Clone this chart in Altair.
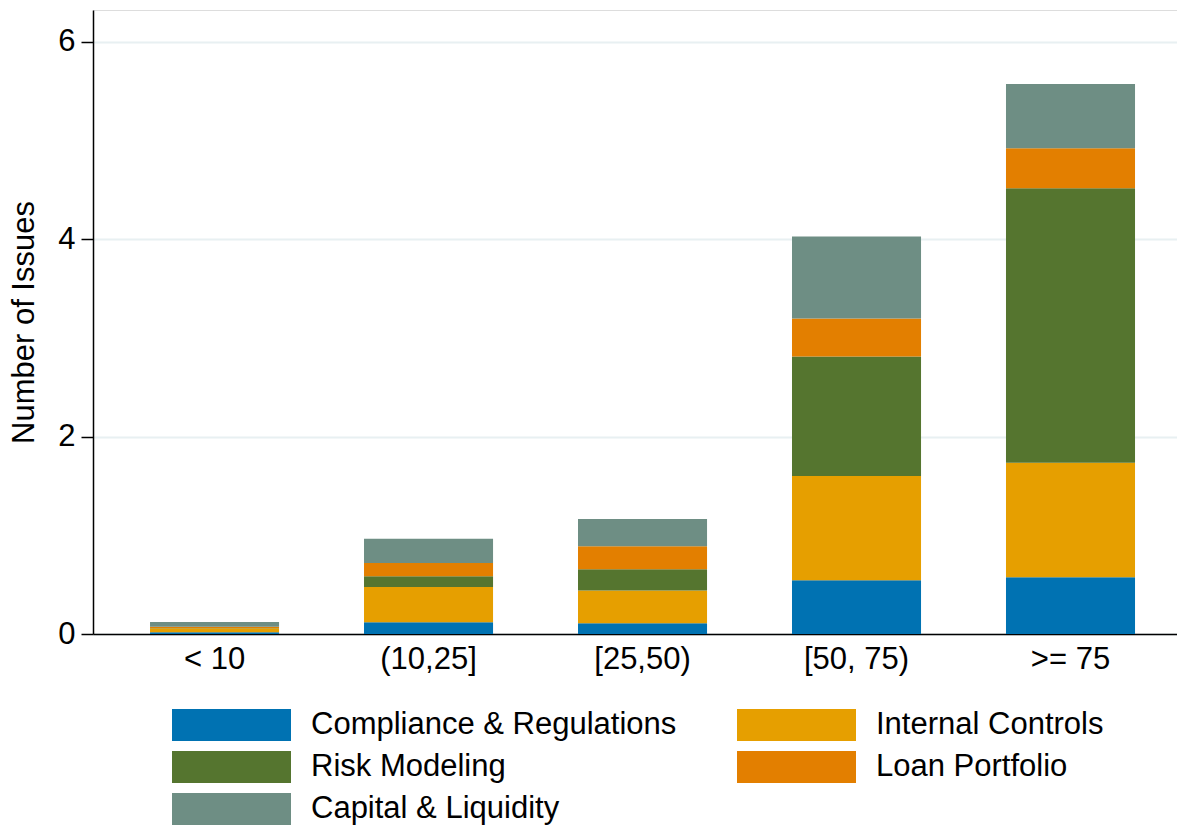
import altair as alt
import pandas as pd

categories = ["< 10", "(10,25]", "[25,50)", "[50, 75)", ">= 75"]
series = ["Compliance & Regulations", "Internal Controls", "Risk Modeling",
          "Loan Portfolio", "Capital & Liquidity"]
colors = ["#0072B2", "#E69F00", "#55752F", "#E37F00", "#6E8E84"]

compliance = [0.017, 0.12, 0.11, 0.545, 0.575]
internal = [0.04, 0.355, 0.33, 1.055, 1.16]
risk = [0.004, 0.11, 0.215, 1.21, 2.78]
loan = [0.012, 0.135, 0.235, 0.385, 0.405]
capital = [0.048, 0.245, 0.275, 0.83, 0.65]

values = [compliance, internal, risk, loan, capital]
rows = []
for si, (name, vals) in enumerate(zip(series, values)):
    for ci, cat in enumerate(categories):
        rows.append({"group": cat, "series": name, "order": si, "value": vals[ci]})
df = pd.DataFrame(rows)

FONT = "Liberation Sans"

chart = alt.Chart(df).mark_bar().encode(
    x=alt.X("group:N", sort=categories,
            scale=alt.Scale(paddingInner=0.397, paddingOuter=0.2313, align=0.576),
            axis=alt.Axis(title=None, ticks=False, labelAngle=0, labelFontSize=31,
                          labelColor="black", labelFont=FONT, labelPadding=10,
                          domainColor="black", domainWidth=1.5, grid=False)),
    y=alt.Y("value:Q", stack="zero",
            scale=alt.Scale(domain=[0, 6.32], nice=False, zero=True),
            axis=alt.Axis(values=[0, 2, 4, 6], format="d", grid=True,
                          gridColor="#E8F0F2", gridWidth=2,
                          domainColor="black", domainWidth=1.5,
                          tickColor="black", tickSize=12, tickWidth=1.5,
                          labelFontSize=31, labelColor="black", labelFont=FONT,
                          labelPadding=6,
                          title="Number of Issues", titleFontSize=31,
                          titleFontWeight="normal", titleColor="black",
                          titleFont=FONT, titlePadding=17)),
    color=alt.Color("series:N",
                    scale=alt.Scale(domain=series, range=colors),
                    legend=alt.Legend(title=None, orient="none", legendX=79, legendY=694,
                                      columns=2, direction="horizontal",
                                      symbolType="M-1,-0.27H1V0.27H-1Z",
                                      symbolSize=14161, symbolStrokeWidth=0,
                                      symbolOpacity=1, clipHeight=42,
                                      labelFontSize=31, labelFont=FONT, labelColor="black",
                                      labelLimit=600, labelOffset=20,
                                      columnPadding=60, rowPadding=0, padding=0)),
    order=alt.Order("order:Q", sort="ascending"),
).properties(
    width=1084, height=624,
    autosize=alt.AutoSizeParams(type="none"),
    padding={"left": 85, "top": 2, "right": 0, "bottom": 191},
).configure_view(stroke=None).configure(font=FONT)

chart.save("out.html", embed_options={"renderer": "svg", "actions": False})
